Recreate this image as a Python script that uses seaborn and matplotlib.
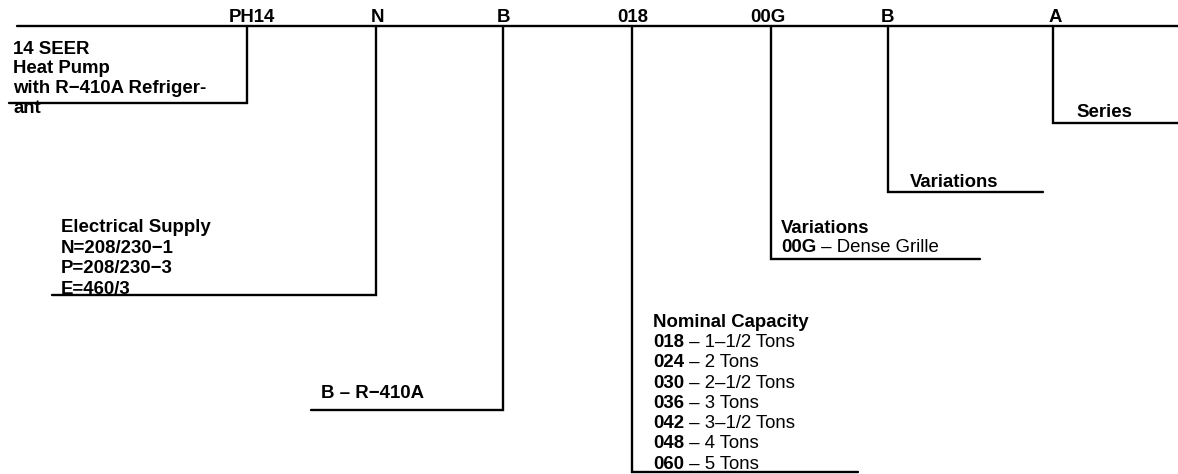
import matplotlib.pyplot as plt
import seaborn as sns
import pandas as pd

# model number segments, left to right
codes = ["PH14", "N", "B", "018", "00G", "B", "A"]

seer_lines = ["14 SEER", "Heat Pump", "with R\u2212410A Refriger-", "ant"]
elec_lines = ["Electrical Supply", "N=208/230\u22121", "P=208/230\u22123", "E=460/3"]
refrig_label = "B \u2013 R\u2212410A"
cap_title = "Nominal Capacity"
cap_codes = ["018", "024", "030", "036", "042", "048", "060"]
cap_tons = ["1\u20131/2 Tons", "2 Tons", "2\u20131/2 Tons", "3 Tons",
            "3\u20131/2 Tons", "4 Tons", "5 Tons"]
var_title = "Variations"
var_codes = ["00G"]
var_desc = ["Dense Grille"]
var2_label = "Variations"
series_label = "Series"

# layout in pixels, y grows downward
W, H = 1178, 474
top_y = 26
top_x0 = 17
code_label_x = [252, 377, 504, 633, 768, 888, 1055]
drop_x = [247, 376, 503, 632, 771, 888, 1053]
drop_end_y = [103, 295, 410, 472, 259, 192, 123]
shelf_end_x = [9, 52, 311, 858, 980, 1043, 1178]

FS = 13.4
LW = 1.7

sns.set_theme(style="white")
plt.rcParams['font.family'] = ['Liberation Sans', 'DejaVu Sans']
plt.rcParams['text.color'] = 'black'

fig = plt.figure(figsize=(11.78, 4.74), dpi=100)
ax = fig.add_axes([0, 0, 1, 1])

# connector paths
rows = [(0, top_x0, top_y), (0, W, top_y)]
for i, (dx, ey, ex) in enumerate(zip(drop_x, drop_end_y, shelf_end_x), start=1):
    rows += [(i, dx, top_y), (i, dx, ey), (i, ex, ey)]
paths = pd.DataFrame(rows, columns=["seg", "x", "y"])
sns.lineplot(data=paths, x="x", y="y", units="seg", estimator=None, sort=False,
             color="black", linewidth=LW, legend=False, ax=ax,
             solid_joinstyle="miter")

ax.set_xlim(0, W)
ax.set_ylim(H, 0)
ax.axis("off")

# code letters along the top
for c, x in zip(codes, code_label_x):
    ax.text(x, 21.5, c, ha="center", va="baseline", fontsize=FS, weight="bold")


def block(x, y0, step, lines):
    for k, s in enumerate(lines):
        ax.text(x, y0 + k * step, s, ha="left", va="baseline", fontsize=FS, weight="bold")


def mixed(x, y, key, rest):
    t = ax.text(x, y, key, ha="left", va="baseline", fontsize=FS, weight="bold")
    ax.annotate(" \u2013 " + rest, xy=(1, 0), xycoords=t, ha="left", va="bottom",
                fontsize=FS)


block(13, 53.5, 19.8, seer_lines)
block(61, 232, 20.5, elec_lines)
block(321, 398, 0, [refrig_label])

ax.text(653, 327, cap_title, ha="left", va="baseline", fontsize=FS, weight="bold")
for k, (c, t) in enumerate(zip(cap_codes, cap_tons)):
    mixed(653, 347 + k * 20.3, c, t)

ax.text(781, 233, var_title, ha="left", va="baseline", fontsize=FS, weight="bold")
for k, (c, t) in enumerate(zip(var_codes, var_desc)):
    mixed(781, 252 + k * 20.3, c, t)

ax.text(910, 187, var2_label, ha="left", va="baseline", fontsize=FS, weight="bold")
ax.text(1076, 117, series_label, ha="left", va="baseline", fontsize=FS, weight="bold")

fig.savefig("out.png", dpi=100)
